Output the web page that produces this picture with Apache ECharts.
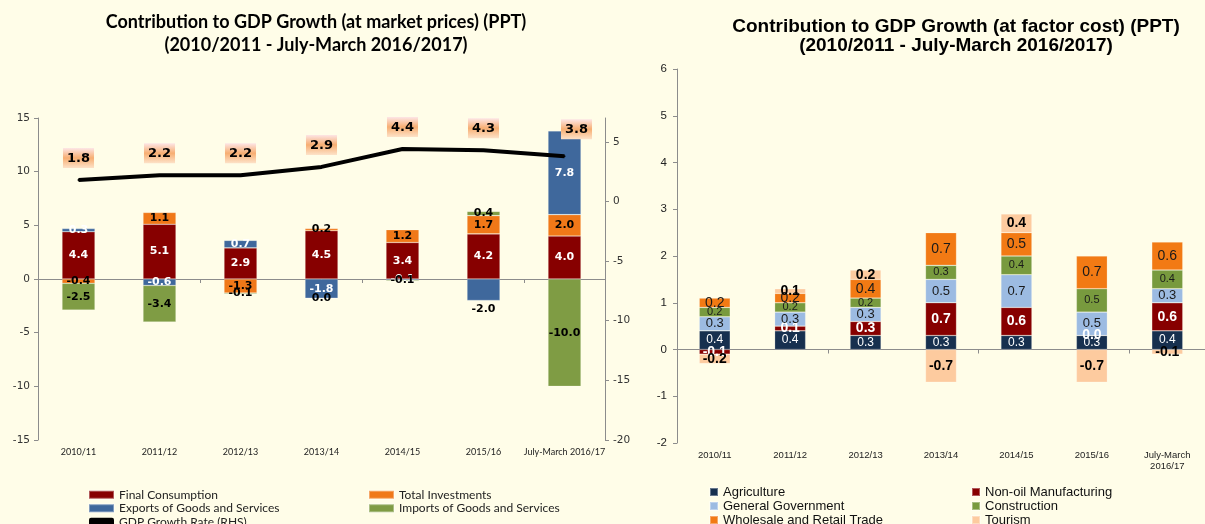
<!DOCTYPE html>
<html>
<head>
<meta charset="utf-8">
<script src="https://cdn.jsdelivr.net/npm/echarts@6/dist/echarts.min.js"></script>
<style>
  html, body { margin: 0; padding: 0; overflow: hidden; background: #FFFDE8; }
  /* a bit taller than the window so the last legend row is cut like the source */
  #chart { width: 1205px; height: 545px; }
</style>
</head>
<body>
<div id="chart"></div>
<script>
  // market prices chart
  var years = ['2010/11', '2011/12', '2012/13', '2013/14', '2014/15', '2015/16', 'July-March 2016/17'];
  var finalConsumption = [4.4, 5.1, 2.9, 4.5, 3.4, 4.2, 4.0];
  var totalInvestments = [-0.4, 1.1, -1.3, 0.2, 1.2, 1.7, 2.0];
  var exportsGS = [0.3, -0.6, 0.7, -1.8, -0.1, -2.0, 7.8];
  var importsGS = [-2.5, -3.4, -0.1, 0.0, -0.1, 0.4, -10.0];
  var gdpGrowth = [1.8, 2.2, 2.2, 2.9, 4.4, 4.3, 3.8];
  var leftTicks = [-15, -10, -5, 0, 5, 10, 15];
  var rhsTicks = [-20, -15, -10, -5, 0, 5];

  // factor cost chart
  var sectorYears = ['2010/11', '2011/12', '2012/13', '2013/14', '2014/15', '2015/16', 'July-March\n2016/17'];
  var agriculture = [0.4, 0.4, 0.3, 0.3, 0.3, 0.3, 0.4];
  var nonOilManufacturing = [-0.1, 0.1, 0.3, 0.7, 0.6, 0.0, 0.6];
  var generalGovernment = [0.3, 0.3, 0.3, 0.5, 0.7, 0.5, 0.3];
  var construction = [0.2, 0.2, 0.2, 0.3, 0.4, 0.5, 0.4];
  var wholesaleRetail = [0.2, 0.2, 0.4, 0.7, 0.5, 0.7, 0.6];
  var tourism = [-0.2, 0.1, 0.2, -0.7, 0.4, -0.7, -0.1];

  var fmt = function (p) { return Number(p.value).toFixed(1); };
  var axisGray = '#8c8c8c';

  function leftBar(name, data, color, labelColor) {
    return {
      type: 'bar', name: name, data: data, stack: 'mp',
      xAxisIndex: 0, yAxisIndex: 0, barWidth: 33,
      itemStyle: { color: color, borderColor: 'rgba(255,255,255,0.35)', borderWidth: 0.6 },
      label: {
        show: true, position: 'inside', color: labelColor, formatter: fmt,
        fontFamily: 'DejaVu Sans', fontWeight: 'bold', fontSize: 11
      }
    };
  }

  function rightBar(name, data, color, labelColor, size, weight) {
    return {
      type: 'bar', name: name, data: data, stack: 'fc',
      xAxisIndex: 2, yAxisIndex: 2, barWidth: 31,
      itemStyle: { color: color, borderColor: 'rgba(255,255,255,0.35)', borderWidth: 0.6 },
      label: {
        show: true, position: 'inside', color: labelColor, formatter: fmt,
        fontFamily: 'Liberation Sans', fontWeight: weight, fontSize: size
      }
    };
  }

  // 2015/16 exports label sits under the bar in black
  var exportsData = exportsGS.map(function (v, i) {
    return i === 5 ? { value: v, label: { position: 'outside', distance: 3, color: '#000' } } : v;
  });

  var labelBg = new echarts.graphic.LinearGradient(0, 0, 0, 1, [
    { offset: 0, color: '#FDE6E6' },
    { offset: 0.5, color: '#F7AE72' },
    { offset: 1, color: '#FDE2C8' }
  ]);

  var gdpData = gdpGrowth.map(function (v, i) {
    return i === 6 ? { value: v, label: { offset: [12, -5] } } : v;
  });

  var legendFont = { fontFamily: 'Lato', fontSize: 12, color: '#222', lineHeight: 13.5 };
  var legendFont2 = { fontFamily: 'Liberation Sans', fontSize: 13, color: '#111', lineHeight: 14 };

  var chart = echarts.init(document.getElementById('chart'));
  chart.setOption({
    backgroundColor: '#FFFDE8',
    animation: false,
    title: [
      {
        text: 'Contribution to GDP Growth (at market prices) (PPT)\n(2010/2011 - July-March 2016/2017)',
        left: 311, top: 6, textAlign: 'center',
        textStyle: { fontFamily: 'Lato', fontWeight: 'bold', fontSize: 18, lineHeight: 23, color: '#000' }
      },
      {
        text: 'Contribution to GDP Growth (at factor cost) (PPT)\n(2010/2011 - July-March 2016/2017)',
        left: 951, top: 12, textAlign: 'center',
        textStyle: { fontFamily: 'Liberation Sans', fontWeight: 'bold', fontSize: 19, lineHeight: 19, color: '#000' }
      }
    ],
    legend: [
      {
        left: 88, top: 488, padding: 0, orient: 'vertical', itemWidth: 25, itemHeight: 8, itemGap: 0,
        data: [
          { name: 'Final Consumption', icon: 'rect' },
          { name: 'Exports of Goods and Services', icon: 'rect' },
          { name: 'GDP Growth Rate (RHS)', icon: 'roundRect' }
        ],
        textStyle: legendFont
      },
      {
        left: 368, top: 488, padding: 0, orient: 'vertical', itemWidth: 25, itemHeight: 8, itemGap: 0,
        data: [
          { name: 'Total Investments', icon: 'rect' },
          { name: 'Imports of Goods and Services', icon: 'rect' }
        ],
        textStyle: legendFont
      },
      {
        left: 709, top: 485, padding: 0, orient: 'vertical', itemWidth: 8, itemHeight: 8, itemGap: 0, icon: 'rect',
        data: ['Agriculture', 'General Government', 'Wholesale and Retail Trade'],
        textStyle: legendFont2
      },
      {
        left: 971, top: 485, padding: 0, orient: 'vertical', itemWidth: 8, itemHeight: 8, itemGap: 0, icon: 'rect',
        data: ['Non-oil Manufacturing', 'Construction', 'Tourism'],
        textStyle: legendFont2
      }
    ],
    grid: [
      { left: 38, top: 118, width: 567, height: 322 },
      { left: 677, top: 69, width: 537, height: 374 }
    ],
    xAxis: [
      {
        gridIndex: 0, type: 'category', data: years, position: 'bottom',
        axisLine: { show: false, onZero: false }, axisTick: { show: false },
        axisLabel: { margin: 8, fontFamily: 'Lato', fontSize: 9, color: '#222', interval: 0 }
      },
      {
        gridIndex: 0, type: 'category', data: years, position: 'bottom',
        axisLine: { show: true, onZero: true, lineStyle: { color: axisGray, width: 1 } },
        axisTick: { show: true, length: 4, lineStyle: { color: axisGray } },
        axisLabel: { show: false }
      },
      {
        gridIndex: 1, type: 'category', data: sectorYears, position: 'bottom',
        axisLine: { show: false, onZero: false }, axisTick: { show: false },
        axisLabel: { margin: 7, fontFamily: 'Liberation Sans', fontSize: 9.5, color: '#222', interval: 0, lineHeight: 11 }
      },
      {
        gridIndex: 1, type: 'category', data: sectorYears, position: 'bottom',
        axisLine: { show: true, onZero: true, lineStyle: { color: axisGray, width: 1 } },
        axisTick: { show: true, length: 4, lineStyle: { color: axisGray } },
        axisLabel: { show: false }
      }
    ],
    yAxis: [
      {
        gridIndex: 0, type: 'value', min: -15, max: 15, interval: 5, position: 'left',
        axisLine: { show: true, lineStyle: { color: axisGray } },
        axisTick: { show: true, length: 4, lineStyle: { color: axisGray }, customValues: leftTicks },
        axisLabel: { fontFamily: 'DejaVu Sans', fontSize: 10.5, color: '#333', margin: 8, customValues: leftTicks },
        splitLine: { show: false }
      },
      {
        gridIndex: 0, type: 'value', min: -20, max: 7, position: 'right',
        axisLine: { show: true, lineStyle: { color: axisGray } },
        axisTick: { show: true, length: 4, lineStyle: { color: axisGray }, customValues: rhsTicks },
        axisLabel: { fontFamily: 'DejaVu Sans', fontSize: 10.5, color: '#333', margin: 8, customValues: rhsTicks },
        splitLine: { show: false }
      },
      {
        gridIndex: 1, type: 'value', min: -2, max: 6, interval: 1,
        axisLine: { show: true, lineStyle: { color: axisGray } },
        axisTick: { show: true, length: 4, lineStyle: { color: axisGray } },
        axisLabel: { fontFamily: 'Liberation Sans', fontSize: 11.5, color: '#222', margin: 10 },
        splitLine: { show: false }
      }
    ],
    series: [
      leftBar('Final Consumption', finalConsumption, '#870000', '#fff'),
      leftBar('Total Investments', totalInvestments, '#F07818', '#000'),
      leftBar('Exports of Goods and Services', exportsData, '#3F689C', '#fff'),
      leftBar('Imports of Goods and Services', importsGS, '#7F9C44', '#000'),
      {
        type: 'line', name: 'GDP Growth Rate (RHS)', data: gdpData,
        xAxisIndex: 0, yAxisIndex: 1, z: 5,
        symbol: 'circle', symbolSize: 2,
        itemStyle: { color: '#000' },
        lineStyle: { color: '#000', width: 4 },
        label: {
          show: true, position: 'top', distance: 11, formatter: fmt,
          color: '#000', fontFamily: 'DejaVu Sans', fontWeight: 'bold', fontSize: 13,
          backgroundColor: labelBg, padding: [4, 4, 3, 4]
        }
      },
      rightBar('Agriculture', agriculture, '#17304F', '#fff', 12, 'normal'),
      rightBar('Non-oil Manufacturing', nonOilManufacturing, '#870000', '#fff', 14, 'bold'),
      rightBar('General Government', generalGovernment, '#9CBBE2', '#1a1a1a', 13, 'normal'),
      rightBar('Construction', construction, '#789A3E', '#1a1a1a', 11, 'normal'),
      rightBar('Wholesale and Retail Trade', wholesaleRetail, '#F27A14', '#1a1a1a', 14, 'normal'),
      rightBar('Tourism', tourism, '#FDCB9F', '#000', 14, 'bold')
    ]
  });
</script>
</body>
</html>
